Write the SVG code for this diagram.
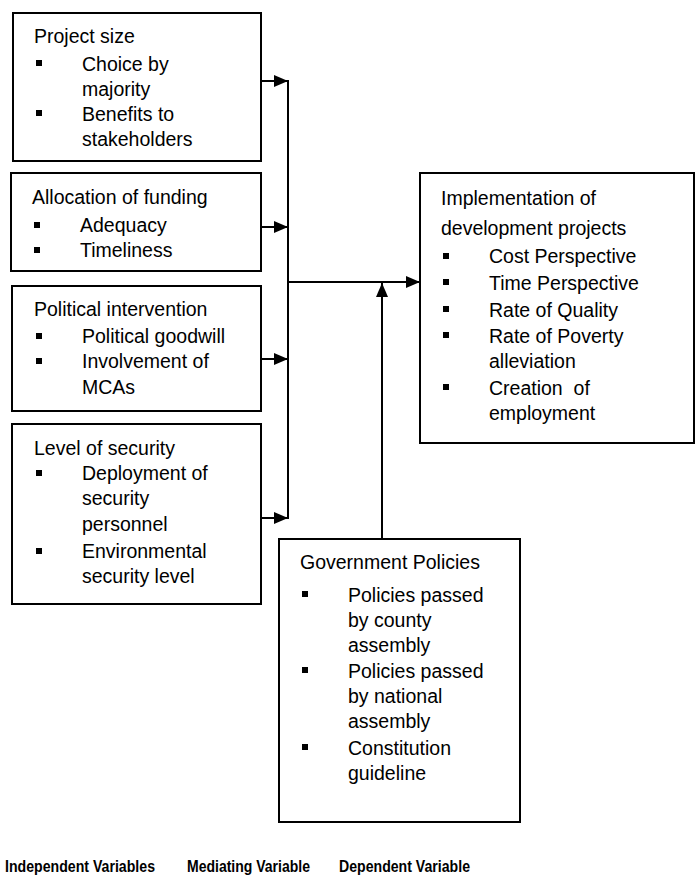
<svg xmlns="http://www.w3.org/2000/svg" width="696" height="876" viewBox="0 0 696 876">
<style>
.box{fill:#fff;stroke:#000;stroke-width:2}
.t{font-family:"Liberation Sans",Arial,sans-serif;font-size:19.5px;fill:#000}
.b{font-family:"Liberation Sans",Arial,sans-serif;font-size:17px;font-weight:bold;fill:#000}
.ln{fill:none;stroke:#000;stroke-width:2}
</style>
<defs>
<marker id="ah" markerUnits="userSpaceOnUse" markerWidth="14" markerHeight="12" refX="14" refY="6" orient="auto">
<path d="M0,0 L14,6 L0,12 Z" fill="#000"/>
</marker>
<rect id="sq" width="6" height="6"/>
</defs>
<rect width="696" height="876" fill="#fff"/>

<g id="project-size">
<rect class="box" x="13" y="13" width="248" height="148"/>
<text class="t" x="34" y="43">Project size</text>
<use href="#sq" x="36" y="60"/>
<text class="t" x="82" y="71">Choice by</text>
<text class="t" x="82" y="96">majority</text>
<use href="#sq" x="36" y="110"/>
<text class="t" x="82" y="121">Benefits to</text>
<text class="t" x="82" y="146">stakeholders</text>
</g>

<g id="allocation-funding">
<rect class="box" x="11" y="173" width="250" height="98"/>
<text class="t" x="32" y="204">Allocation of funding</text>
<use href="#sq" x="34" y="222"/>
<text class="t" x="80" y="232">Adequacy</text>
<use href="#sq" x="34" y="247"/>
<text class="t" x="80" y="257">Timeliness</text>
</g>

<g id="political-intervention">
<rect class="box" x="12" y="286" width="249" height="125"/>
<text class="t" x="34" y="316">Political intervention</text>
<use href="#sq" x="36" y="333"/>
<text class="t" x="82" y="343">Political goodwill</text>
<use href="#sq" x="36" y="358"/>
<text class="t" x="82" y="368">Involvement of</text>
<text class="t" x="82" y="394">MCAs</text>
</g>

<g id="level-security">
<rect class="box" x="12" y="424" width="249" height="180"/>
<text class="t" x="34" y="455">Level of security</text>
<use href="#sq" x="36" y="470"/>
<text class="t" x="82" y="480">Deployment of</text>
<text class="t" x="82" y="505">security</text>
<text class="t" x="82" y="531">personnel</text>
<use href="#sq" x="36" y="548"/>
<text class="t" x="82" y="558">Environmental</text>
<text class="t" x="82" y="583">security level</text>
</g>

<g id="implementation">
<rect class="box" x="420" y="173" width="274" height="270"/>
<text class="t" x="441" y="205">Implementation of</text>
<text class="t" x="441" y="235">development projects</text>
<use href="#sq" x="443" y="253"/>
<text class="t" x="489" y="263">Cost Perspective</text>
<use href="#sq" x="443" y="279"/>
<text class="t" x="489" y="290">Time Perspective</text>
<use href="#sq" x="443" y="306"/>
<text class="t" x="489" y="317">Rate of Quality</text>
<use href="#sq" x="443" y="332"/>
<text class="t" x="489" y="343">Rate of Poverty</text>
<text class="t" x="489" y="368">alleviation</text>
<use href="#sq" x="443" y="384"/>
<text class="t" x="489" y="395" xml:space="preserve">Creation  of</text>
<text class="t" x="489" y="420">employment</text>
</g>

<g id="government-policies">
<rect class="box" x="279" y="539" width="241" height="283"/>
<text class="t" x="300" y="569">Government Policies</text>
<use href="#sq" x="302" y="591"/>
<text class="t" x="348" y="602">Policies passed</text>
<text class="t" x="348" y="627">by county</text>
<text class="t" x="348" y="652">assembly</text>
<use href="#sq" x="302" y="667"/>
<text class="t" x="348" y="678">Policies passed</text>
<text class="t" x="348" y="703">by national</text>
<text class="t" x="348" y="728">assembly</text>
<use href="#sq" x="302" y="744"/>
<text class="t" x="348" y="755">Constitution</text>
<text class="t" x="348" y="780">guideline</text>
</g>

<g id="connectors">
<line class="ln" x1="261" y1="81" x2="288" y2="81" marker-end="url(#ah)"/>
<line class="ln" x1="261" y1="227" x2="288" y2="227" marker-end="url(#ah)"/>
<line class="ln" x1="261" y1="359" x2="288" y2="359" marker-end="url(#ah)"/>
<line class="ln" x1="261" y1="518" x2="288" y2="518" marker-end="url(#ah)"/>
<line class="ln" x1="288" y1="80" x2="288" y2="519"/>
<line class="ln" x1="288" y1="282" x2="420" y2="282" marker-end="url(#ah)"/>
<line class="ln" x1="382" y1="539" x2="382" y2="283" marker-end="url(#ah)"/>
</g>

<g id="labels">
<text class="b" x="5" y="872" textLength="150" lengthAdjust="spacingAndGlyphs">Independent Variables</text>
<text class="b" x="187" y="872" textLength="123" lengthAdjust="spacingAndGlyphs">Mediating Variable</text>
<text class="b" x="339" y="872" textLength="131" lengthAdjust="spacingAndGlyphs">Dependent Variable</text>
</g>
</svg>
